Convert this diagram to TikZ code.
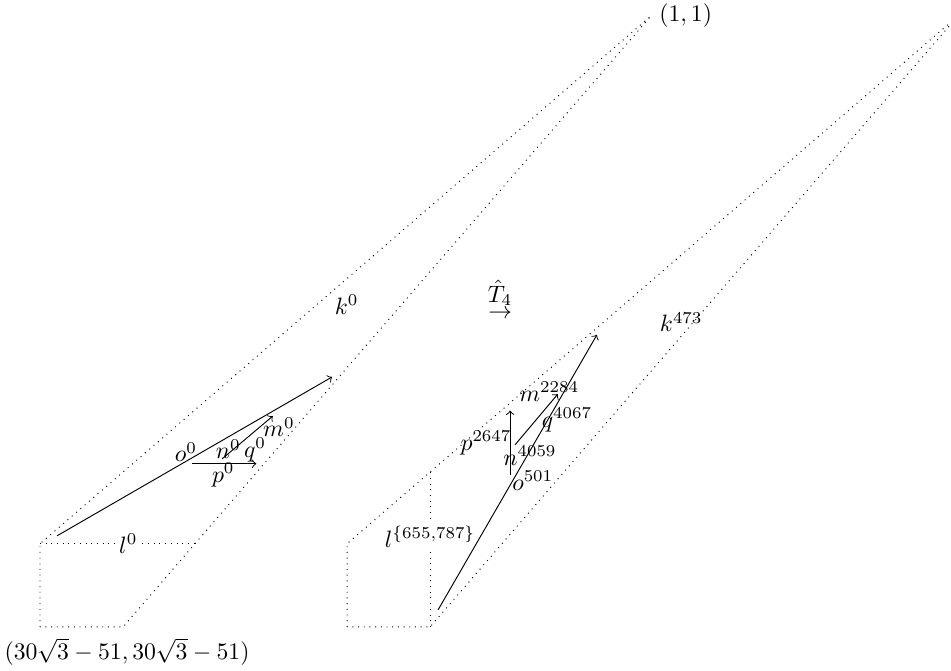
\documentclass[tikz,border=0pt]{standalone}
\usepackage{amsmath, amssymb}
\usepackage{tikz}
\usetikzlibrary{calc}

\begin{document}
\begin{tikzpicture}[x=9.06cm, y=9.06cm]
	\def\c{0.136};
	\def\d{0.5025};

	\useasboundingbox (-0.0655,-0.072) rectangle (1.491,1.026);
	\clip (-0.0655,-0.072) rectangle (1.491,1.026);

	\begin{scope}[dotted]
		\coordinate (A) at (0,0);
		\coordinate (B) at (0,\c);
		\coordinate (T) at (1,1);
		\coordinate (C) at (\c,0);
		\coordinate (L) at ($(C)!\c!(T)$);

		\draw (A) -- (B) -- (T) -- (C) -- cycle;
		\draw (B) -- (L) node [pos = 0.57, fill = white, inner sep = 1pt] (l0) {$l^0$};
	\end{scope}

	\node [right] (one) at (T) {$(1,1)$};
	\node (corner) at (0.1424,-0.0409) {$(30\sqrt{3}-51,30\sqrt{3}-51)$};

	\begin{scope}[-to]
		\coordinate (o0a) at (0.0278,0.149);
		\coordinate (o0b) at (0.478,0.409);
		\coordinate (m0a) at (0.298,0.275);
		\coordinate (m0b) at (0.381,0.345);
		\coordinate (p0a) at (0.249,0.267);
		\coordinate (p0b) at (0.354,0.267);

		\draw (o0a) -- (o0b);
		\draw (m0a) -- (m0b);
		\draw (p0a) -- (p0b);
	\end{scope}

	\node (k0) at (0.502,0.527) {$k^0$};
	\node (o0) at (0.239,0.286) {$o^0$};
	\node (n0) at (0.308,0.291) {$n^0$};
	\node (q0) at (0.352,0.290) {$q^0$};
	\node (m0) at (0.391,0.327) {$m^0$};
	\node (p0) at (0.300,0.249) {$p^0$};

	\node [align = center, inner sep = 0pt] (map) at (0.753,0.536) {$\hat{T}_4$\\[-5pt]$\rightarrow$};

	\begin{scope}[shift = {(\d,0)}]
		\begin{scope}[dotted]
			\coordinate (A2) at (0,0);
			\coordinate (B2) at (0,\c);
			\coordinate (T2) at (1,1);
			\coordinate (C2) at (\c,0);
			\coordinate (L2) at ($(B2)!\c!(T2)$);

			\draw (A2) -- (B2) -- (T2) -- (C2) -- cycle;
			\draw (C2) -- (L2) node [pos = 0.58, fill = white, inner sep = 1pt] (l1) {$l^{\{655,787\}}$};
		\end{scope}

		\begin{scope}[-to]
			\coordinate (o1a) at (0.149,0.0278);
			\coordinate (o1b) at (0.409,0.478);
			\coordinate (m1a) at (0.275,0.298);
			\coordinate (m1b) at (0.345,0.381);
			\coordinate (p1a) at (0.267,0.249);
			\coordinate (p1b) at (0.267,0.354);

			\draw (o1a) -- (o1b);
			\draw (m1a) -- (m1b);
			\draw (p1a) -- (p1b);
		\end{scope}

		\node (k1) at (0.547,0.499) {$k^{473}$};
		\node (o1) at (0.304,0.239) {$o^{501}$};
		\node (n1) at (0.2995,0.280) {$n^{4059}$};
		\node (q1) at (0.360,0.339) {$q^{4067}$};
		\node (m1) at (0.331,0.385) {$m^{2284}$};
		\node (p1) at (0.2275,0.301) {$p^{2647}$};
	\end{scope}
\end{tikzpicture}
\end{document}
